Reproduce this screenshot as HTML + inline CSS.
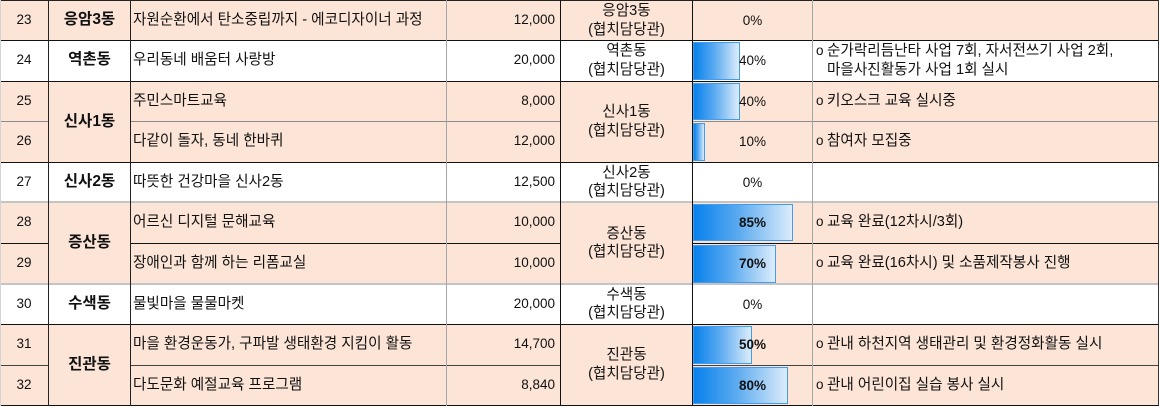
<!DOCTYPE html>
<html><head><meta charset="utf-8"><style>
html,body{margin:0;padding:0;background:#fff;}
body{width:1160px;height:406px;position:relative;overflow:hidden;font-family:"Liberation Sans","Noto Sans CJK KR",sans-serif;font-size:13.5px;color:#111;}
.bg{position:absolute;left:0;width:1159px;}
.pe{background:#FCE4D6;}
.c{position:absolute;display:flex;align-items:center;white-space:nowrap;line-height:18.5px;}
.k{font-size:14.6px;}
.ctr{justify-content:center;text-align:center;}
.rt{justify-content:flex-end;}
.b{font-weight:bold;font-size:15.5px;}
.h{position:absolute;height:1px;}
.v{position:absolute;width:1px;}
.bar{position:absolute;left:693px;box-sizing:border-box;border:1px solid #3f9cf0;background:linear-gradient(to right,#0881ec,#5aaaf0 45%,#dcecfb);}
.pc{position:absolute;left:693px;width:119px;display:flex;align-items:center;justify-content:center;}
.pb{font-weight:bold;}
.o{display:inline-block;width:11px;font-size:13.5px;}
</style></head><body>
<div class="bg pe" style="top:0;height:40px"></div>
<div class="bg" style="top:40px;height:41px;background:#fff"></div>
<div class="bg pe" style="top:81px;height:81px"></div>
<div class="bg" style="top:162px;height:40px;background:#fff"></div>
<div class="bg pe" style="top:202px;height:82px"></div>
<div class="bg" style="top:284px;height:40px;background:#fff"></div>
<div class="bg pe" style="top:324px;height:81px"></div>

<div class="bar" style="top:42px;height:38px;width:47px"></div>
<div class="bar" style="top:83px;height:37px;width:47px"></div>
<div class="bar" style="top:123px;height:38px;width:12px"></div>
<div class="bar" style="top:204px;height:37px;width:100px"></div>
<div class="bar" style="top:245px;height:38px;width:83px"></div>
<div class="bar" style="top:326px;height:38px;width:59px"></div>
<div class="bar" style="top:367px;height:37px;width:95px"></div>

<div class="c ctr" style="left:0;width:48px;top:0;height:40px">23</div>
<div class="c ctr" style="left:0;width:48px;top:40px;height:41px">24</div>
<div class="c ctr" style="left:0;width:48px;top:81px;height:40px">25</div>
<div class="c ctr" style="left:0;width:48px;top:121px;height:41px">26</div>
<div class="c ctr" style="left:0;width:48px;top:162px;height:40px">27</div>
<div class="c ctr" style="left:0;width:48px;top:202px;height:41px">28</div>
<div class="c ctr" style="left:0;width:48px;top:243px;height:41px">29</div>
<div class="c ctr" style="left:0;width:48px;top:284px;height:40px">30</div>
<div class="c ctr" style="left:0;width:48px;top:324px;height:41px">31</div>
<div class="c ctr" style="left:0;width:48px;top:365px;height:40px">32</div>

<div class="c ctr b" style="left:49px;width:81px;top:0;height:40px">응암3동</div>
<div class="c ctr b" style="left:49px;width:81px;top:40px;height:41px">역촌동</div>
<div class="c ctr b" style="left:49px;width:81px;top:81px;height:83px">신사1동</div>
<div class="c ctr b" style="left:49px;width:81px;top:162px;height:40px">신사2동</div>
<div class="c ctr b" style="left:49px;width:81px;top:202px;height:82px">증산동</div>
<div class="c ctr b" style="left:49px;width:81px;top:284px;height:40px">수색동</div>
<div class="c ctr b" style="left:49px;width:81px;top:324px;height:83px">진관동</div>

<div class="c k" style="left:133px;top:0;height:40px">자원순환에서 탄소중립까지 - 에코디자이너 과정</div>
<div class="c k" style="left:133px;top:40px;height:41px">우리동네 배움터 사랑방</div>
<div class="c k" style="left:133px;top:81px;height:40px">주민스마트교육</div>
<div class="c k" style="left:133px;top:121px;height:41px">다같이 돌자, 동네 한바퀴</div>
<div class="c k" style="left:133px;top:162px;height:40px">따뜻한 건강마을 신사2동</div>
<div class="c k" style="left:133px;top:202px;height:41px">어르신 디지털 문해교육</div>
<div class="c k" style="left:133px;top:243px;height:41px">장애인과 함께 하는 리폼교실</div>
<div class="c k" style="left:133px;top:284px;height:40px">물빛마을 물물마켓</div>
<div class="c k" style="left:133px;top:324px;height:41px">마을 환경운동가, 구파발 생태환경 지킴이 활동</div>
<div class="c k" style="left:133px;top:365px;height:40px">다도문화 예절교육 프로그램</div>

<div class="c rt" style="left:447px;width:108px;top:0;height:40px">12,000</div>
<div class="c rt" style="left:447px;width:108px;top:40px;height:41px">20,000</div>
<div class="c rt" style="left:447px;width:108px;top:81px;height:40px">8,000</div>
<div class="c rt" style="left:447px;width:108px;top:121px;height:41px">12,000</div>
<div class="c rt" style="left:447px;width:108px;top:162px;height:40px">12,500</div>
<div class="c rt" style="left:447px;width:108px;top:202px;height:41px">10,000</div>
<div class="c rt" style="left:447px;width:108px;top:243px;height:41px">10,000</div>
<div class="c rt" style="left:447px;width:108px;top:284px;height:40px">20,000</div>
<div class="c rt" style="left:447px;width:108px;top:324px;height:41px">14,700</div>
<div class="c rt" style="left:447px;width:108px;top:365px;height:40px">8,840</div>

<div class="c ctr k" style="left:561px;width:131px;top:0;height:41px">응암3동<br>(협치담당관)</div>
<div class="c ctr k" style="left:561px;width:131px;top:40px;height:41px">역촌동<br>(협치담당관)</div>
<div class="c ctr k" style="left:561px;width:131px;top:81px;height:81px">신사1동<br>(협치담당관)</div>
<div class="c ctr k" style="left:561px;width:131px;top:162px;height:40px">신사2동<br>(협치담당관)</div>
<div class="c ctr k" style="left:561px;width:131px;top:202px;height:82px">증산동<br>(협치담당관)</div>
<div class="c ctr k" style="left:561px;width:131px;top:284px;height:40px">수색동<br>(협치담당관)</div>
<div class="c ctr k" style="left:561px;width:131px;top:324px;height:81px">진관동<br>(협치담당관)</div>

<div class="pc" style="top:0;height:40px">0%</div>
<div class="pc" style="top:40px;height:41px">40%</div>
<div class="pc" style="top:81px;height:40px">40%</div>
<div class="pc" style="top:121px;height:41px">10%</div>
<div class="pc" style="top:162px;height:40px">0%</div>
<div class="pc pb" style="top:202px;height:41px">85%</div>
<div class="pc pb" style="top:243px;height:41px">70%</div>
<div class="pc" style="top:284px;height:40px">0%</div>
<div class="pc pb" style="top:324px;height:41px">50%</div>
<div class="pc pb" style="top:365px;height:40px">80%</div>

<div class="c k" style="left:816px;top:40px;height:41px;display:block;padding-top:2px;box-sizing:border-box"><span class="o">o</span>순가락리듬난타 사업 7회, 자서전쓰기 사업 2회,<br><span class="o"></span>마을사진활동가 사업 1회 실시</div>
<div class="c k" style="left:816px;top:81px;height:40px"><span class="o">o</span>키오스크 교육 실시중</div>
<div class="c k" style="left:816px;top:121px;height:41px"><span class="o">o</span>참여자 모집중</div>
<div class="c k" style="left:816px;top:202px;height:41px"><span class="o">o</span>교육 완료(12차시/3회)</div>
<div class="c k" style="left:816px;top:243px;height:41px"><span class="o">o</span>교육 완료(16차시) 및 소품제작봉사 진행</div>
<div class="c k" style="left:816px;top:324px;height:41px"><span class="o">o</span>관내 하천지역 생태관리 및 환경정화활동 실시</div>
<div class="c k" style="left:816px;top:365px;height:40px"><span class="o">o</span>관내 어린이집 실습 봉사 실시</div>

<div class="h" style="top:0;left:0;width:1159px;background:#222"></div>
<div class="h" style="top:40px;left:0;width:1159px;background:#111"></div>
<div class="h" style="top:81px;left:0;width:1159px;background:#111"></div>
<div class="h" style="top:121px;left:0;width:48px;background:#8c8c8c"></div>
<div class="h" style="top:121px;left:130px;width:430px;background:#8c8c8c"></div>
<div class="h" style="top:121px;left:692px;width:467px;background:#8c8c8c"></div>
<div class="h" style="top:162px;left:0;width:1159px;background:#111"></div>
<div class="h" style="top:201px;left:0;width:1159px;height:2px;background:#c4c4c4"></div>
<div class="h" style="top:243px;left:0;width:48px;background:#111"></div>
<div class="h" style="top:243px;left:130px;width:430px;background:#111"></div>
<div class="h" style="top:243px;left:692px;width:467px;background:#111"></div>
<div class="h" style="top:283px;left:0;width:1159px;height:2px;background:#c4c4c4"></div>
<div class="h" style="top:324px;left:0;width:1159px;background:#111"></div>
<div class="h" style="top:365px;left:0;width:48px;background:#444"></div>
<div class="h" style="top:365px;left:130px;width:430px;background:#444"></div>
<div class="h" style="top:365px;left:692px;width:467px;background:#444"></div>
<div class="h" style="top:405px;left:0;width:1159px;background:#111"></div>

<div class="v" style="left:0;top:0;height:406px;background:#d4d4d4"></div>
<div class="v" style="left:48px;top:0;height:406px;background:#222"></div>
<div class="v" style="left:130px;top:0;height:406px;background:#222"></div>
<div class="v" style="left:446px;top:0;height:406px;background:#a6a6a6"></div>
<div class="v" style="left:560px;top:0;height:406px;background:#111"></div>
<div class="v" style="left:692px;top:0;height:406px;background:#111"></div>
<div class="v" style="left:812px;top:0;height:406px;background:#a6a6a6"></div>
<div class="v" style="left:1158px;top:0;height:406px;background:#333"></div>
</body></html>
